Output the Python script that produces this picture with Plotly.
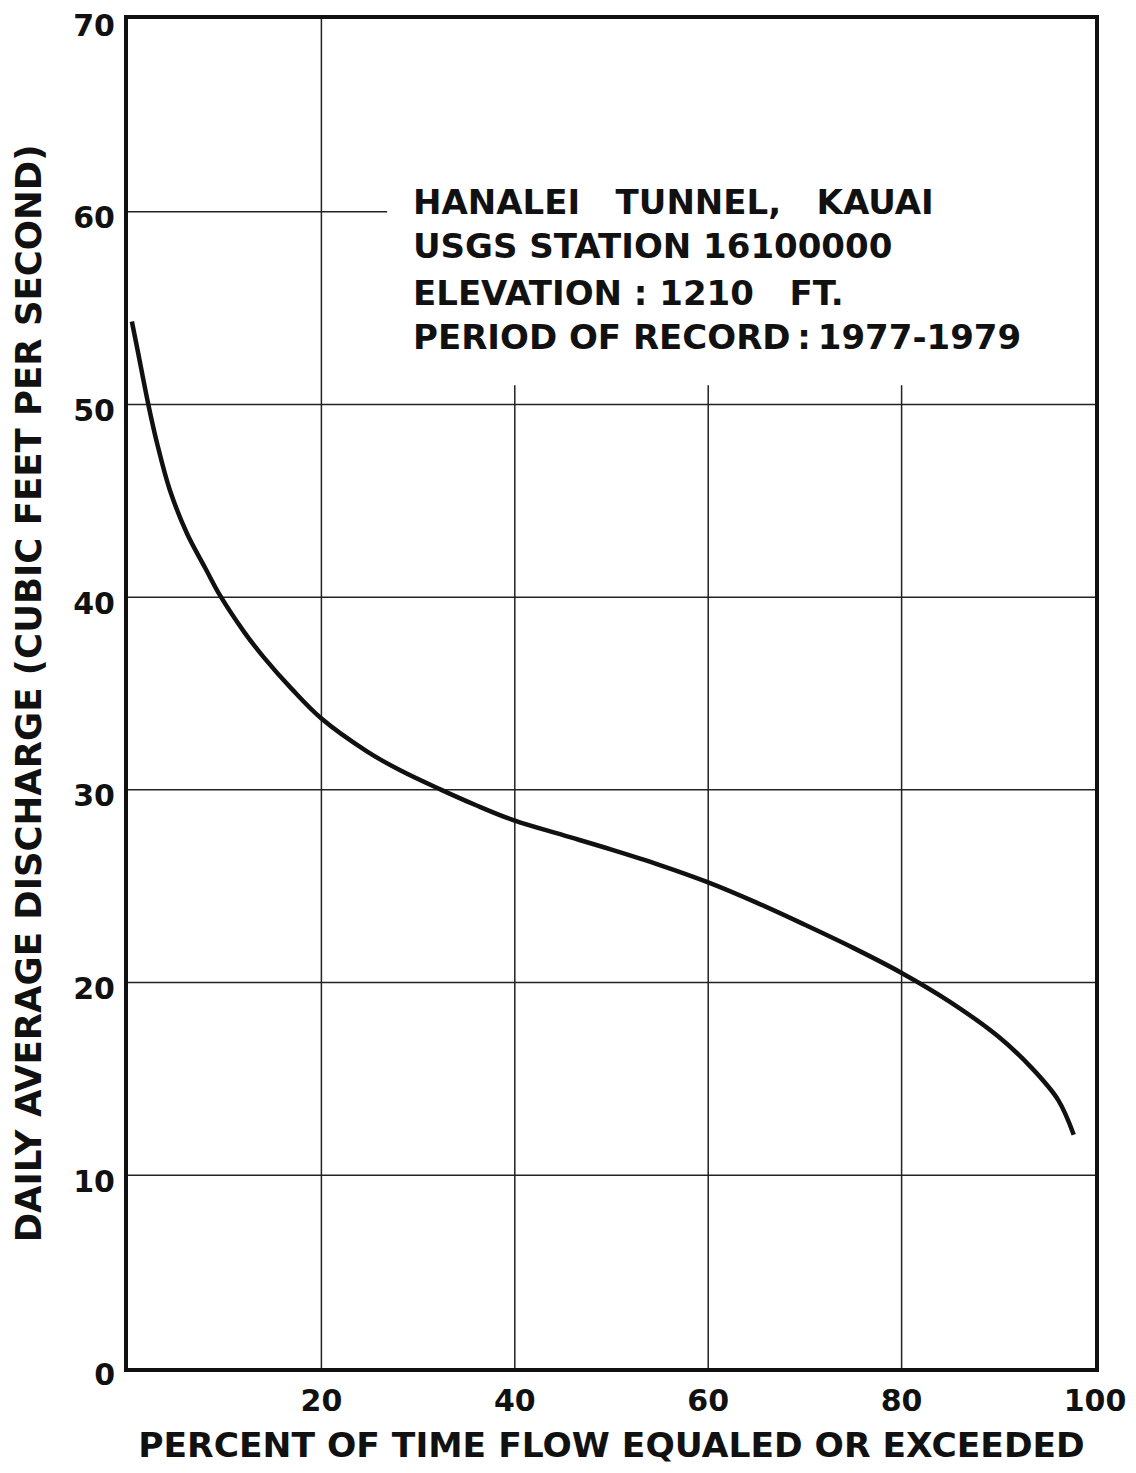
import plotly.graph_objects as go

# Flow-duration curve values
percent_time = [0.4, 1, 2.1, 3, 4.3, 6.1, 8, 9.5, 12, 14, 17, 20, 24.7, 28.2, 32.4, 36, 40,
                45, 50, 55, 60, 65, 70, 75, 80, 85, 90, 93.4, 96.2, 97.8]
discharge = [54.3, 52.8, 50.0, 48.0, 45.6, 43.3, 41.5, 40.1, 38.2, 36.9, 35.2, 33.7,
             32.0, 31.0, 30.0, 29.2, 28.4, 27.65, 26.9, 26.1, 25.2, 24.15, 23.0, 21.8,
             20.5, 19.0, 17.2, 15.6, 13.9, 12.1]

x_ticks = [20, 40, 60, 80, 100]
y_ticks = [0, 10, 20, 30, 40, 50, 60, 70]

NB = "\u00a0"
TH = "\u2009"
info_lines = [f"HANALEI{NB}{NB} TUNNEL,{NB}{NB} KAUAI",
              "USGS STATION 16100000",
              f"ELEVATION : 1210{NB}{NB} FT.",
              f"PERIOD OF RECORD{TH}:{TH}1977-1979"]
info_y = [60.5, 58.2, 55.8, 53.5]

FONT = "DejaVu Sans"
INK = "#111111"

fig = go.Figure()
fig.add_trace(go.Scatter(x=percent_time, y=discharge, mode="lines",
                         line=dict(color=INK, width=4.5, shape="spline", smoothing=1.0),
                         hoverinfo="skip", showlegend=False))

shapes = []
grid = dict(color="#222222", width=1.5)
# vertical grid lines: 20 full height, others stop below the text block
for xv in [20, 40, 60, 80]:
    top = 70 if xv == 20 else 51
    shapes.append(dict(type="line", xref="x", yref="y", x0=xv, x1=xv, y0=0, y1=top,
                       line=grid, layer="below"))
# horizontal grid lines
for yv in [10, 20, 30, 40, 50]:
    shapes.append(dict(type="line", xref="x", yref="y", x0=0, x1=100, y0=yv, y1=yv,
                       line=grid, layer="below"))
shapes.append(dict(type="line", xref="x", yref="y", x0=0, x1=26.8, y0=60, y1=60,
                   line=grid, layer="below"))

annotations = []
for t, yv in zip(info_lines, info_y):
    annotations.append(dict(x=29.3, y=yv, xref="x", yref="y", text=t, showarrow=False,
                            xanchor="left", yanchor="middle",
                            font=dict(family=FONT, size=34, color=INK, weight="bold")))

# page body has an 8px default margin, so the figure is sized to fit the window
fig.update_layout(
    width=1120, height=1457,
    margin=dict(l=120, r=33, t=11, b=97),
    paper_bgcolor="white", plot_bgcolor="white",
    shapes=shapes, annotations=annotations,
    showlegend=False,
    xaxis=dict(range=[0, 100], tickvals=x_ticks, ticktext=[str(v) for v in x_ticks],
               showgrid=False, zeroline=False, showline=True, mirror=True,
               linewidth=4, linecolor=INK, ticks="", ticklabelstandoff=3,
               automargin=False, ticklabeloverflow="allow",
               tickfont=dict(family=FONT, size=30, color=INK, weight="bold"),
               title=dict(text="PERCENT OF TIME FLOW EQUALED OR EXCEEDED", standoff=24,
                          font=dict(family=FONT, size=34.5, color=INK, weight="bold"))),
    yaxis=dict(range=[0, 70], tickvals=y_ticks, ticktext=[str(v) for v in y_ticks],
               showgrid=False, zeroline=False, showline=True, mirror=True,
               linewidth=4, linecolor=INK, ticks="", ticklabelstandoff=3,
               ticklabelshift=6,
               automargin=False, ticklabeloverflow="allow",
               tickfont=dict(family=FONT, size=30, color=INK, weight="bold"),
               title=dict(text="DAILY AVERAGE DISCHARGE (CUBIC FEET PER SECOND)", standoff=22,
                          font=dict(family=FONT, size=35.5, color=INK, weight="bold"))),
)

fig.write_html("out.html")
